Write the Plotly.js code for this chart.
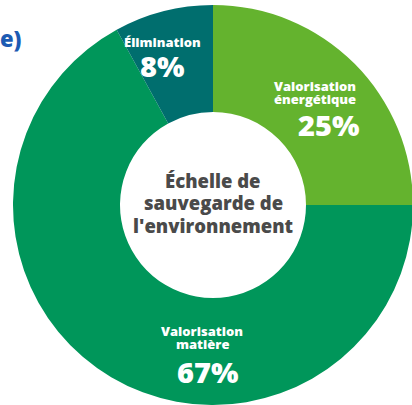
<!DOCTYPE html>
<html>
<head>
<meta charset="utf-8">
<script src="https://cdn.plot.ly/plotly-3.0.1.min.js"></script>
<style>
  html, body { margin: 0; padding: 0; overflow: hidden; background: #fff; }
  #donut { width: 414px; height: 405px; }
</style>
</head>
<body>
<div id="donut"></div>
<script>
// slices, clockwise from 12 o'clock
const categories = ["Valorisation énergétique", "Valorisation matière", "Élimination"];
const labelLines = [["Valorisation", "énergétique"], ["Valorisation", "matière"], ["Élimination"]];
const shares = [25, 67, 8];
const sliceColors = ["#64b32e", "#00965a", "#006e6e"];
const centerText = ["Échelle de", "sauvegarde de", "l'environnement"];

// where the labels go, in pixels (name block top line, percent)
const namePos = [[315, 86], [202, 331], [162, 42]];
const pctPos = [[328, 124], [207, 371], [162, 65]];

const M = { l: 13, r: 1, t: 5, b: 0 };
const W = 400, H = 400;
const px = x => (x - M.l) / W;
const py = y => 1 - (y - M.t) / H;
const FONT = "Open Sans";

function note(text, x, y, size, color, extra) {
    return Object.assign({
        text: text, x: px(x), y: py(y),
        xref: "paper", yref: "paper", xanchor: "center", yanchor: "middle",
        showarrow: false, borderpad: 0,
        font: { family: FONT, size: size, color: color, weight: 800 }
    }, extra || {});
}

let annotations = [];
for (let i = 0; i < categories.length; i++) {
    labelLines[i].forEach((ln, j) => {
        annotations.push(note(ln, namePos[i][0], namePos[i][1] + j * 12.5, 13, "#fff"));
    });
    annotations.push(note(shares[i] + "%", pctPos[i][0], pctPos[i][1], 29, "#fff"));
}
centerText.forEach((ln, j) => {
    annotations.push(note(ln, 213, 180 + j * 22.5, 18.5, "#4a4a4a"));
});
annotations.push(note("e)", 23, 38, 22, "#1c5bb3", { xanchor: "right" }));

Plotly.newPlot("donut", [{
    type: "pie",
    labels: categories,
    values: shares,
    hole: 0.465,
    sort: false,
    direction: "clockwise",
    rotation: 0,
    textinfo: "none",
    hoverinfo: "label+percent",
    marker: { colors: sliceColors, line: { width: 0 } }
}], {
    width: 414, height: 405,
    margin: M,
    showlegend: false,
    paper_bgcolor: "#fff",
    annotations: annotations
}, { displayModeBar: false, staticPlot: true });
</script>
</body>
</html>
